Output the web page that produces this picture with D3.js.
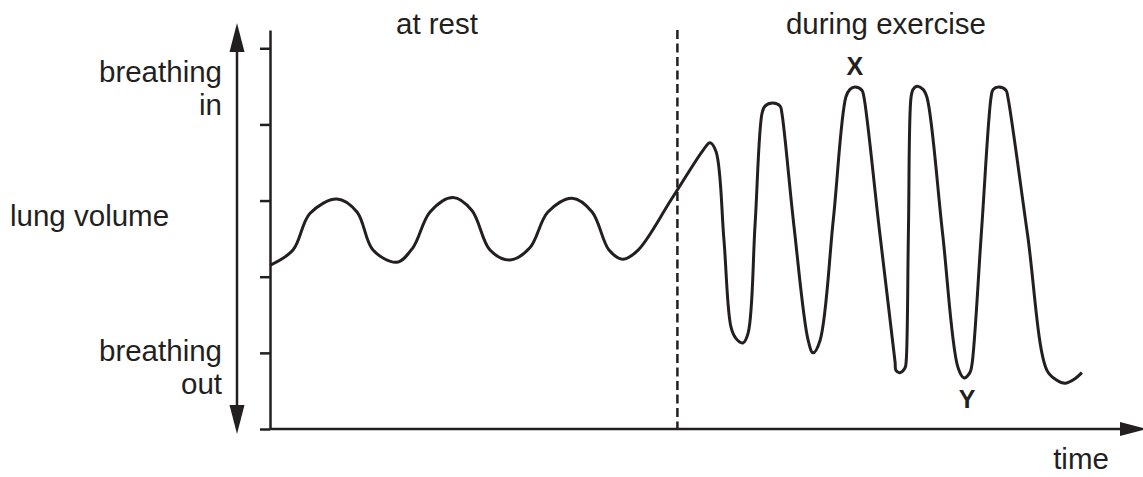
<!DOCTYPE html>
<html>
<head>
<meta charset="utf-8">
<script src="https://cdn.jsdelivr.net/npm/d3@7"></script>
<style>
  body { margin: 0; background: #fff; }
  svg text { font-family: "Liberation Sans", Arial, Helvetica, sans-serif; fill: #231f20; }
</style>
</head>
<body>
<svg id="chart" width="1143" height="477"></svg>
<script>
// lung volume trace, [time, volume]
const restTrace = [
    [0, 2.15], [0.79, 2.35], [1.37, 2.83], [2.30, 3.02], [2.99, 2.85], [3.54, 2.35],
    [4.36, 2.19], [4.91, 2.38], [5.50, 2.85], [6.29, 3.04], [6.94, 2.87], [7.56, 2.35],
    [8.25, 2.22], [8.93, 2.38], [9.55, 2.85], [10.38, 3.03], [11.07, 2.85], [11.65, 2.35],
    [12.13, 2.23], [12.65, 2.35], [13.80, 3.02]
];
const exerciseTrace = [
    [14.88, 3.66], [15.12, 3.76], [15.33, 3.64], [15.60, 2.48], [15.84, 1.34], [16.01, 1.19],
    [16.25, 1.13], [16.43, 1.26], [16.67, 2.69], [16.91, 4.15], [17.01, 4.24], [17.28, 4.28],
    [17.53, 4.24], [17.59, 4.15], [18.01, 2.65], [18.49, 1.17], [18.66, 1.00], [18.90, 1.16],
    [19.36, 2.76], [19.79, 4.36], [19.93, 4.46], [20.10, 4.49], [20.34, 4.45], [20.41, 4.36],
    [20.94, 2.62], [21.48, 0.88], [21.51, 0.77], [21.65, 0.74], [21.82, 0.80], [21.86, 0.88],
    [21.94, 2.62], [22.03, 4.36], [22.10, 4.46], [22.23, 4.50], [22.44, 4.46], [22.58, 4.35],
    [23.11, 2.58], [23.64, 0.81], [23.85, 0.67], [24.05, 0.74], [24.12, 0.84], [24.45, 2.60],
    [24.78, 4.36], [24.85, 4.46], [25.05, 4.49], [25.29, 4.45], [25.36, 4.35], [26.03, 2.56],
    [26.70, 0.77], [27.04, 0.64], [27.32, 0.60], [27.66, 0.66], [27.90, 0.74]
];
const volumeTicks = [0, 1, 2, 3, 4, 5];
const exerciseStart = 14;
const peakX = [20.10, 4.49];
const troughY = [23.85, 0.67];

const ink = '#231f20';
const svg = d3.select('#chart');

const x = d3.scaleLinear().domain([0, 30]).range([270, 1143]);
const y = d3.scaleLinear().domain([0, 5.24]).range([429, 30]);

// y axis with ticks, no labels
svg.append('g')
    .attr('transform', 'translate(270,0)')
    .call(d3.axisLeft(y).tickValues(volumeTicks).tickSize(10).tickSizeOuter(0).tickFormat(''))
    .call(g => g.selectAll('path, line').attr('stroke', ink).attr('stroke-width', 2.5));

// x axis line with arrow
svg.append('line')
    .attr('x1', x(0)).attr('x2', 1122)
    .attr('y1', y(0)).attr('y2', y(0))
    .attr('stroke', ink).attr('stroke-width', 2.5);
svg.append('path')
    .attr('d', 'M1120,' + (y(0) - 7) + 'L1147,' + y(0) + 'L1120,' + (y(0) + 7) + 'Z')
    .attr('fill', ink);

// double arrow on the left
svg.append('line')
    .attr('x1', 237).attr('x2', 237).attr('y1', 45).attr('y2', 411)
    .attr('stroke', ink).attr('stroke-width', 2.5);
svg.append('path').attr('d', 'M237,23L244.5,52L229.5,52Z').attr('fill', ink);
svg.append('path').attr('d', 'M237,434L244.5,405L229.5,405Z').attr('fill', ink);

// rest / exercise divider
svg.append('line')
    .attr('x1', x(exerciseStart)).attr('x2', x(exerciseStart))
    .attr('y1', y(5.24)).attr('y2', y(0))
    .attr('stroke', ink).attr('stroke-width', 2.5)
    .attr('stroke-dasharray', '9,4.5');

const line = d3.line()
    .x(d => x(d[0]))
    .y(d => y(d[1]))
    .curve(d3.curveCatmullRom.alpha(0.5));

svg.append('path')
    .datum(restTrace.concat(exerciseTrace))
    .attr('d', line)
    .attr('fill', 'none')
    .attr('stroke', ink)
    .attr('stroke-width', 3)
    .attr('stroke-linejoin', 'round');

const fs = 29.5;
const addText = (txt, tx, ty, anchor, weight) => svg.append('text')
    .attr('x', tx).attr('y', ty)
    .attr('text-anchor', anchor || 'start')
    .attr('font-size', fs)
    .attr('font-weight', weight || 'normal')
    .text(txt);

addText('breathing', 222, 82, 'end');
addText('in', 222, 115, 'end');
addText('lung volume', 10, 226);
addText('breathing', 222, 361, 'end');
addText('out', 222, 394, 'end');
addText('at rest', 437, 34, 'middle');
addText('during exercise', 986, 34, 'end');
addText('time', 1081, 469, 'middle');
addText('X', x(peakX[0]), 75, 'middle', 'bold').attr('font-size', 25);
addText('Y', x(troughY[0]) + 3, 408, 'middle', 'bold').attr('font-size', 25);
</script>
</body>
</html>
